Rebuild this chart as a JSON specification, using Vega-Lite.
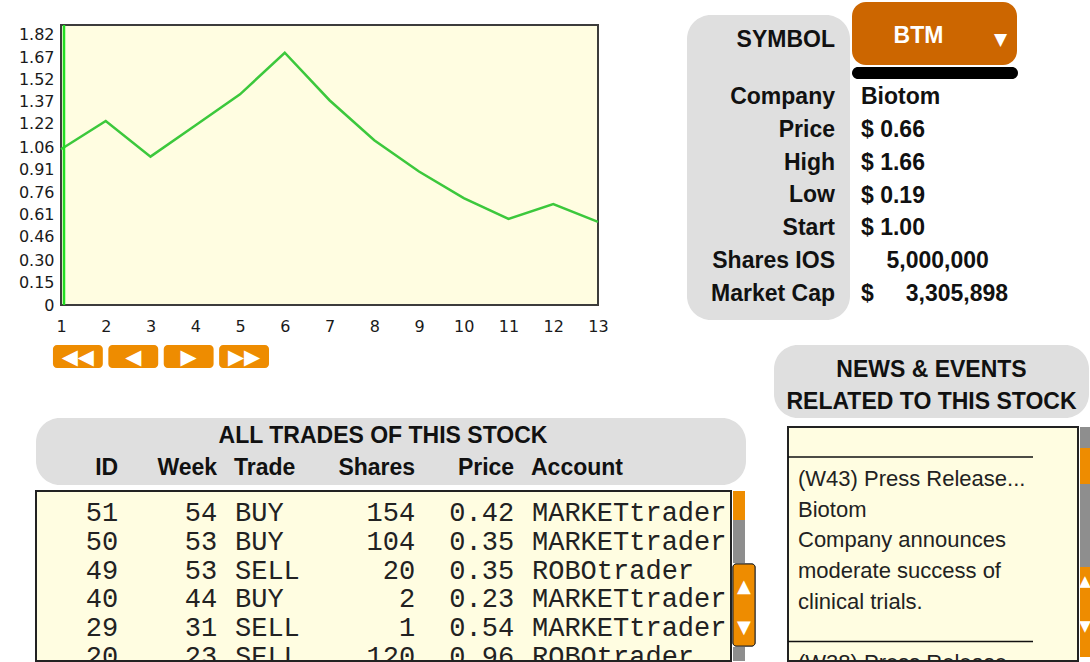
{
  "$schema": "https://vega.github.io/schema/vega-lite/v6.json",
  "background": "white",
  "padding": {"left": 17, "top": 2, "right": 0, "bottom": 0},
  "config": {"view": {"stroke": null}, "font": "Liberation Sans"},
  "datasets": {
    "price": [
      {"week": 1, "price": 1.05}, {"week": 2, "price": 1.24}, {"week": 3, "price": 1.0},
      {"week": 4, "price": 1.21}, {"week": 5, "price": 1.42}, {"week": 6, "price": 1.7},
      {"week": 7, "price": 1.38}, {"week": 8, "price": 1.11}, {"week": 9, "price": 0.9},
      {"week": 10, "price": 0.72}, {"week": 11, "price": 0.58}, {"week": 12, "price": 0.68},
      {"week": 13, "price": 0.56}
    ],
    "info": [
      {"label": "SYMBOL", "value": "BTM"},
      {"label": "Company", "value": "Biotom"},
      {"label": "Price", "value": "$\u00a00.66"},
      {"label": "High", "value": "$\u00a01.66"},
      {"label": "Low", "value": "$\u00a00.19"},
      {"label": "Start", "value": "$\u00a01.00"},
      {"label": "Shares IOS", "value": "\u200b\u00a0\u00a0\u00a0\u00a05,000,000"},
      {"label": "Market Cap", "value": "$\u00a0\u00a0\u00a0\u00a0\u00a03,305,898"}
    ],
    "trades": [
      {"id": 51, "week": 54, "trade": "BUY", "shares": 154, "price": "0.42", "account": "MARKETtrader"},
      {"id": 50, "week": 53, "trade": "BUY", "shares": 104, "price": "0.35", "account": "MARKETtrader"},
      {"id": 49, "week": 53, "trade": "SELL", "shares": 20, "price": "0.35", "account": "ROBOtrader"},
      {"id": 40, "week": 44, "trade": "BUY", "shares": 2, "price": "0.23", "account": "MARKETtrader"},
      {"id": 29, "week": 31, "trade": "SELL", "shares": 1, "price": "0.54", "account": "MARKETtrader"},
      {"id": 20, "week": 23, "trade": "SELL", "shares": 120, "price": "0.96", "account": "ROBOtrader"}
    ],
    "columns": [
      {"col": "id", "label": "ID"}, {"col": "week", "label": "Week"}, {"col": "trade", "label": "Trade"},
      {"col": "shares", "label": "Shares"}, {"col": "price", "label": "Price"}, {"col": "account", "label": "Account"}
    ],
    "news": [
      {"row": 1, "text": "(W43) Press Release..."},
      {"row": 2, "text": "Biotom"},
      {"row": 3, "text": "Company announces"},
      {"row": 4, "text": "moderate success of"},
      {"row": 5, "text": "clinical trials."},
      {"row": 7, "text": "(W38) Press Release..."}
    ],
    "arrows": [{"glyph": "▲"}, {"glyph": "▼"}]
  },
  "spacing": 10,
  "vconcat": [
    {
      "bounds": "flush",
      "spacing": 20,
      "hconcat": [
        {"width": 5, "height": 1, "data": {"values": [{}]}, "mark": {"type": "rect", "opacity": 0}, "encoding": {}},
        {
          "spacing": 77,
          "hconcat": [
            {
              "spacing": 19,
              "vconcat": [
                {"width": 1, "height": 1, "data": {"values": [{}]}, "mark": {"type": "rect", "opacity": 0}, "encoding": {}},
                {
                  "width": 537,
                  "height": 280,
                  "view": {"fill": "#FFFDE1", "stroke": "#3C3C3C", "strokeWidth": 2},
                  "layer": [
                    {
                      "data": {"name": "price"},
                      "mark": {"type": "line", "color": "#3CC83C", "strokeWidth": 2.5},
                      "encoding": {
                        "x": {
                          "field": "week", "type": "quantitative",
                          "scale": {"domain": [1, 13], "nice": false, "zero": false},
                          "axis": {"values": [1,2,3,4,5,6,7,8,9,10,11,12,13], "format": "d", "labelFlush": false, "grid": false, "ticks": false, "domain": false, "labelPadding": 13, "labelFont": "DejaVu Sans", "labelFontSize": 16, "labelColor": "#1A1A1A", "title": null}
                        },
                        "y": {
                          "field": "price", "type": "quantitative",
                          "scale": {"domain": [0, 1.887], "nice": false, "zero": true},
                          "axis": {"values": [0, 0.15, 0.3, 0.46, 0.61, 0.76, 0.91, 1.06, 1.22, 1.37, 1.52, 1.67, 1.82], "labelExpr": "datum.value == 0 ? '0' : format(datum.value, '.2f')", "grid": false, "ticks": false, "domain": false, "labelPadding": 7, "labelFont": "DejaVu Sans", "labelFontSize": 16, "labelColor": "#1A1A1A", "title": null}
                        }
                      }
                    },
                    {
                      "data": {"values": [{}]},
                      "mark": {"type": "rule", "color": "#22DD22", "strokeWidth": 2.5, "xOffset": 3},
                      "encoding": {"x": {"datum": 1, "type": "quantitative"}}
                    }
                  ]
                }
              ]
            },
            {
              "spacing": 2,
              "hconcat": [
                {
                  "spacing": 12,
                  "vconcat": [
                    {"width": 1, "height": 1, "data": {"values": [{}]}, "mark": {"type": "rect", "opacity": 0}, "encoding": {}},
                    {
                      "width": 163,
                      "height": 305,
                      "view": {"fill": "#DFDFDF", "cornerRadius": 24},
                      "data": {"name": "info"},
                      "layer": [
                        {
                          "transform": [{"filter": "datum.label != 'SYMBOL'"}],
                          "mark": {"type": "text", "align": "right", "dx": -15, "fontSize": 23, "fontWeight": "bold", "color": "#111111"},
                          "encoding": {
                            "y": {"field": "label", "type": "nominal", "scale": {"type": "point", "domain": ["SYMBOL", " ", "Company", "Price", "High", "Low", "Start", "Shares IOS", "Market Cap"], "padding": 0.644, "align": 0.385}, "axis": null},
                            "x": {"value": "width"},
                            "text": {"field": "label"}
                          }
                        },
                        {
                          "transform": [{"filter": "datum.label == 'SYMBOL'"}],
                          "mark": {"type": "text", "align": "right", "dx": -15, "dy": 9, "fontSize": 23, "fontWeight": "bold", "color": "#111111"},
                          "encoding": {
                            "y": {"field": "label", "type": "nominal", "scale": {"type": "point", "domain": ["SYMBOL", " ", "Company", "Price", "High", "Low", "Start", "Shares IOS", "Market Cap"], "padding": 0.644, "align": 0.385}, "axis": null},
                            "x": {"value": "width"},
                            "text": {"field": "label"}
                          }
                        }
                      ]
                    }
                  ]
                },
                {
                  "spacing": 1,
                  "vconcat": [
                    {
                      "spacing": 2,
                      "vconcat": [
                        {
                          "width": 165,
                          "height": 63,
                          "view": {"fill": "#CC6600", "cornerRadius": 14},
                          "data": {"name": "info"},
                          "transform": [{"filter": "datum.label == 'SYMBOL'"}],
                          "layer": [
                            {"mark": {"type": "text", "color": "#FFFFFF", "fontSize": 23, "fontWeight": "bold", "dx": -16, "dy": 2}, "encoding": {"text": {"field": "value"}}},
                            {"mark": {"type": "text", "color": "#FFFFFF", "fontSize": 17, "font": "DejaVu Sans", "dx": 66, "dy": 6, "text": "▼"}, "encoding": {}}
                          ]
                        },
                        {
                          "width": 166,
                          "height": 12,
                          "data": {"values": [{}]},
                          "mark": {"type": "rect", "color": "#000000", "cornerRadius": 6},
                          "encoding": {}
                        }
                      ]
                    },
                    {
                      "width": 170,
                      "height": 231,
                      "data": {"name": "info"},
                      "transform": [{"filter": "datum.label != 'SYMBOL'"}],
                      "mark": {"type": "text", "align": "left", "dx": 9, "fontSize": 23, "fontWeight": "bold", "color": "#111111"},
                      "encoding": {
                        "y": {"field": "label", "type": "nominal", "scale": {"type": "point", "domain": ["Company", "Price", "High", "Low", "Start", "Shares IOS", "Market Cap"], "padding": 0.518}, "axis": null},
                        "x": {"value": 0},
                        "text": {"field": "value"}
                      }
                    }
                  ]
                }
              ]
            }
          ]
        }
      ]
    },
    {
      "spacing": 18,
      "hconcat": [
        {
          "spacing": 50,
          "vconcat": [
            {
              "width": 233,
              "height": 23,
              "data": {"values": [
                {"button": "first", "glyph": "◀◀"},
                {"button": "back", "glyph": "◀"},
                {"button": "forward", "glyph": "▶"},
                {"button": "last", "glyph": "▶▶"}
              ]},
              "encoding": {
                "x": {"field": "button", "type": "nominal", "sort": null, "scale": {"type": "band", "paddingInner": 0.1, "paddingOuter": 0.153, "align": 1}, "axis": null}
              },
              "layer": [
                {"mark": {"type": "rect", "color": "#EE8C00", "cornerRadius": 4}},
                {"mark": {"type": "text", "color": "#FFFFFF", "fontSize": 21, "font": "DejaVu Sans", "dy": 1}, "encoding": {"text": {"field": "glyph"}}}
              ]
            },
            {
              "spacing": 5,
              "vconcat": [
                {
                  "width": 710,
                  "height": 67,
                  "view": {"fill": "#DFDFDF", "cornerRadius": 24},
                  "layer": [
                    {
                      "data": {"values": [{"title": "ALL TRADES OF THIS STOCK"}]},
                      "mark": {"type": "text", "fontSize": 23, "fontWeight": "bold", "color": "#111111", "dx": -8},
                      "encoding": {
                        "y": {"datum": "title", "type": "nominal", "scale": {"type": "point", "domain": ["title", "head"], "padding": 0.55, "align": 0.51}, "axis": null},
                        "text": {"field": "title"}
                      }
                    },
                    {
                      "data": {"name": "columns"},
                      "transform": [{"filter": "datum.col != 'trade' && datum.col != 'account'"}],
                      "mark": {"type": "text", "align": "right", "fontSize": 23, "fontWeight": "bold", "color": "#111111"},
                      "encoding": {
                        "x": {"field": "col", "type": "nominal", "bandPosition": 0.83, "scale": {"type": "band", "domain": ["id", "week", "trade", "shares", "price", "account"], "paddingInner": 0, "paddingOuter": 0.586, "align": 0}, "axis": null},
                        "y": {"datum": "head", "type": "nominal", "scale": {"type": "point", "domain": ["title", "head"], "padding": 0.55, "align": 0.51}, "axis": null},
                        "text": {"field": "label"}
                      }
                    },
                    {
                      "data": {"name": "columns"},
                      "transform": [{"filter": "datum.col == 'trade' || datum.col == 'account'"}],
                      "mark": {"type": "text", "align": "left", "fontSize": 23, "fontWeight": "bold", "color": "#111111"},
                      "encoding": {
                        "x": {"field": "col", "type": "nominal", "bandPosition": 0, "scale": {"type": "band", "domain": ["id", "week", "trade", "shares", "price", "account"], "paddingInner": 0, "paddingOuter": 0.586, "align": 0}, "axis": null},
                        "y": {"datum": "head", "type": "nominal", "scale": {"type": "point", "domain": ["title", "head"], "padding": 0.55, "align": 0.51}, "axis": null},
                        "text": {"field": "label"}
                      }
                    }
                  ]
                },
                {
                  "spacing": 0,
                  "hconcat": [
                    {
                      "width": 695,
                      "height": 170,
                      "view": {"fill": "#FFFDE1", "stroke": "#222222", "strokeWidth": 2},
                      "data": {"name": "trades"},
                      "layer": [
                        {
                          "transform": [{"fold": ["id", "week", "shares", "price"], "as": ["col", "val"]}],
                          "mark": {"type": "text", "align": "right", "font": "Liberation Mono", "fontSize": 27, "color": "#222222", "clip": true},
                          "encoding": {
                            "x": {"field": "col", "type": "nominal", "bandPosition": 0.83, "scale": {"type": "band", "domain": ["id", "week", "trade", "shares", "price", "account"], "paddingInner": 0, "paddingOuter": 0.51, "align": 0}, "axis": null},
                            "y": {"field": "id", "type": "ordinal", "sort": "descending", "scale": {"type": "point", "padding": 0.451, "align": 0.846}, "axis": null},
                            "text": {"field": "val", "type": "nominal"}
                          }
                        },
                        {
                          "transform": [{"fold": ["trade", "account"], "as": ["col", "val"]}],
                          "mark": {"type": "text", "align": "left", "font": "Liberation Mono", "fontSize": 27, "color": "#222222", "clip": true},
                          "encoding": {
                            "x": {"field": "col", "type": "nominal", "bandPosition": 0.01, "scale": {"type": "band", "domain": ["id", "week", "trade", "shares", "price", "account"], "paddingInner": 0, "paddingOuter": 0.51, "align": 0}, "axis": null},
                            "y": {"field": "id", "type": "ordinal", "sort": "descending", "scale": {"type": "point", "padding": 0.451, "align": 0.846}, "axis": null},
                            "text": {"field": "val", "type": "nominal"}
                          }
                        }
                      ]
                    },
                    {
                      "spacing": 0,
                      "vconcat": [
                        {"width": 12, "height": 29, "data": {"values": [{}]}, "mark": {"type": "rect", "color": "#EE8C00"}, "encoding": {}},
                        {"width": 12, "height": 43, "data": {"values": [{}]}, "mark": {"type": "rect", "color": "#8E8E8E"}, "encoding": {}},
                        {
                          "width": 22,
                          "height": 82,
                          "data": {"name": "arrows"},
                          "layer": [
                            {"mark": {"type": "rect", "color": "#EE8C00", "stroke": "#222222", "strokeWidth": 1, "cornerRadius": 3}, "encoding": {}},
                            {"mark": {"type": "text", "color": "#FFFFFF", "fontSize": 18, "font": "DejaVu Sans"}, "encoding": {
                              "y": {"field": "glyph", "type": "nominal", "sort": null, "scale": {"type": "point", "padding": 0.5, "align": 0.55}, "axis": null},
                              "text": {"field": "glyph"}
                            }}
                          ]
                        },
                        {"width": 12, "height": 14, "data": {"values": [{}]}, "mark": {"type": "rect", "color": "#8E8E8E"}, "encoding": {}}
                      ]
                    }
                  ]
                }
              ]
            }
          ]
        },
        {
          "spacing": 8,
          "vconcat": [
            {
              "width": 315,
              "height": 73,
              "view": {"fill": "#DFDFDF", "cornerRadius": 24},
              "data": {"values": [{}]},
              "mark": {"type": "text", "fontSize": 23, "fontWeight": "bold", "color": "#111111", "lineHeight": 32, "dy": -12},
              "encoding": {"text": {"value": ["NEWS & EVENTS", "RELATED TO THIS STOCK"]}}
            },
            {
              "spacing": 11,
              "hconcat": [
                {"width": 1, "height": 1, "data": {"values": [{}]}, "mark": {"type": "rect", "opacity": 0}, "encoding": {}},
                {
                  "spacing": 0,
                  "hconcat": [
                    {
                      "width": 290,
                      "height": 234,
                      "view": {"fill": "#FFFDE1", "stroke": "#222222", "strokeWidth": 2},
                      "data": {"name": "news"},
                      "layer": [
                        {
                          "mark": {"type": "text", "align": "left", "dx": 10, "fontSize": 22, "color": "#222222", "clip": true},
                          "encoding": {
                            "y": {"field": "row", "type": "quantitative", "scale": {"domain": [-0.691, 6.919], "nice": false, "zero": false, "reverse": true}, "axis": null},
                            "x": {"value": 0},
                            "text": {"field": "text"}
                          }
                        },
                        {
                          "transform": [{"filter": "indexof(datum.text, '(W') == 0"}],
                          "mark": {"type": "rule", "color": "#111111", "strokeWidth": 1.5, "yOffset": -22, "xOffset": -45, "x2Offset": 10},
                          "encoding": {
                            "y": {"field": "row", "type": "quantitative", "scale": {"domain": [-0.691, 6.919], "nice": false, "zero": false, "reverse": true}, "axis": null}
                          }
                        }
                      ]
                    },
                    {
                      "spacing": 0,
                      "vconcat": [
                        {"width": 10, "height": 21, "data": {"values": [{}]}, "mark": {"type": "rect", "color": "#8E8E8E"}, "encoding": {}},
                        {"width": 10, "height": 36, "data": {"values": [{}]}, "mark": {"type": "rect", "color": "#EE8C00"}, "encoding": {}},
                        {"width": 10, "height": 83, "data": {"values": [{}]}, "mark": {"type": "rect", "color": "#8E8E8E"}, "encoding": {}},
                        {
                          "width": 10,
                          "height": 90,
                          "data": {"name": "arrows"},
                          "layer": [
                            {"mark": {"type": "rect", "color": "#EE8C00"}, "encoding": {}},
                            {"mark": {"type": "text", "color": "#FFFFFF", "fontSize": 15, "font": "DejaVu Sans"}, "encoding": {
                              "y": {"field": "glyph", "type": "nominal", "sort": null, "scale": {"type": "point", "padding": 0.5, "align": 0.3}, "axis": null},
                              "text": {"field": "glyph"}
                            }}
                          ]
                        }
                      ]
                    }
                  ]
                }
              ]
            }
          ]
        }
      ]
    }
  ]
}
